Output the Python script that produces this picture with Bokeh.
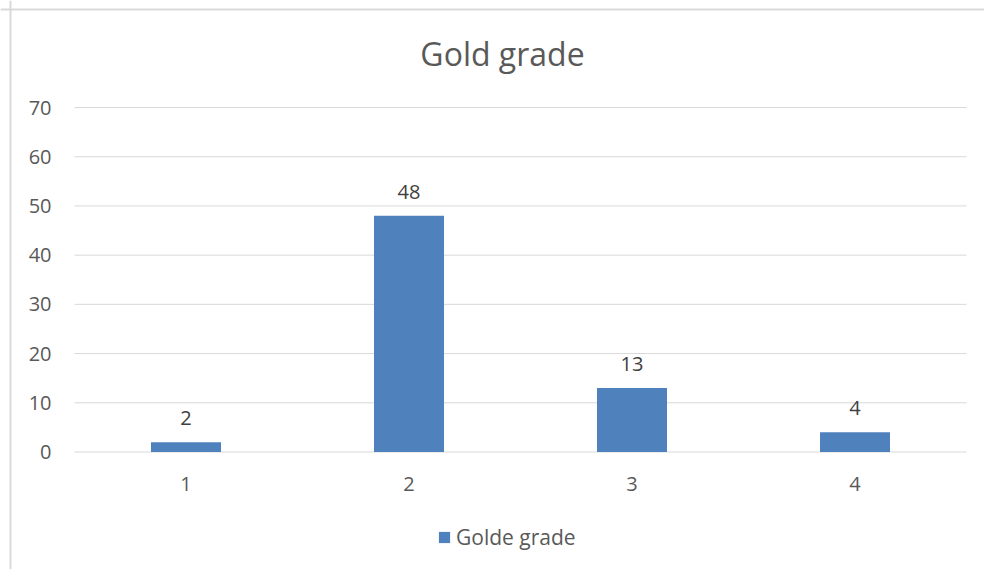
from bokeh.plotting import figure
from bokeh.models import (ColumnDataSource, Range1d, Legend, LegendItem, Span)
from bokeh.core.properties import value
from bokeh.embed import file_html
from bokeh.resources import INLINE

# Chart data
categories = ["1", "2", "3", "4"]
values = [2, 48, 13, 4]
series_name = "Golde grade"
chart_title = "Gold grade"
y_ticks = [0, 10, 20, 30, 40, 50, 60, 70]

FONT = "Open Sans"
TEXT = "#595959"
VALUE_TEXT = "#404040"
BAR = "#4F81BD"
GRID = "#D9D9D9"

# Page and plot-area geometry (pixels)
W, H = 984, 569
AREA_LEFT, AREA_RIGHT = 74, 966
AREA_TOP, AREA_ZERO = 107, 451.5

y_max = y_ticks[-1]
n = len(categories)
px_per_cat = (AREA_RIGHT - AREA_LEFT) / n
units_per_px = y_max / (AREA_ZERO - AREA_TOP)

x_pos = [i + 1 for i in range(n)]
x_lo, x_hi = 0.5, n + 0.5

# the frame covers the whole canvas; the chart area sits inside it
p = figure(width=W, height=H, output_backend="svg", toolbar_location=None,
           x_range=Range1d(x_lo - AREA_LEFT / px_per_cat,
                           x_hi + (W - AREA_RIGHT) / px_per_cat),
           y_range=Range1d(-(H - AREA_ZERO) * units_per_px,
                           y_max + AREA_TOP * units_per_px),
           min_border=0, x_axis_type=None, y_axis_type=None)
p.grid.visible = False
p.outline_line_color = None
p.background_fill_color = "white"
p.border_fill_color = "white"

# horizontal gridlines
p.segment(x0=[x_lo] * len(y_ticks), x1=[x_hi] * len(y_ticks),
          y0=y_ticks, y1=y_ticks, line_color=GRID, line_width=1)

# bars
source = ColumnDataSource(dict(x=x_pos, cat=categories, val=values,
                               lbl=[str(v) for v in values]))
bars = p.vbar(x="x", top="val", bottom=0, width=0.314, source=source,
              fill_color=BAR, line_color=None)

# value labels above bars
p.text(x="x", y="val", text="lbl", source=source, y_offset=-24,
       text_align="center", text_baseline="middle",
       text_font=value(FONT), text_font_size="20px", text_color=VALUE_TEXT)

# y tick labels
p.text(x=[x_lo] * len(y_ticks), y=y_ticks, text=[str(t) for t in y_ticks],
       x_offset=-23, text_align="right", text_baseline="middle",
       text_font=value(FONT), text_font_size="20px", text_color=TEXT)

# category labels under the zero line
p.text(x="x", y=0, text="cat", source=source, y_offset=32,
       text_align="center", text_baseline="middle",
       text_font=value(FONT), text_font_size="20px", text_color=TEXT)

# title
p.text(x=[(x_lo + x_hi) / 2], y=[y_max], text=[chart_title],
       x_offset=-18, y_offset=-54, text_align="center",
       text_baseline="middle", text_font=value(FONT),
       text_font_size="32px", text_color=TEXT)

# legend below the chart area
legend = Legend(items=[LegendItem(label=series_name, renderers=[bars])],
                orientation="horizontal", location=(437, 18),
                label_text_font=FONT, label_text_font_size="21px",
                label_text_color=TEXT, glyph_width=14, glyph_height=14,
                border_line_color=None, background_fill_alpha=0,
                label_standoff=5, padding=0, margin=0)
p.add_layout(legend)

# chart border: left and top edges only
p.add_layout(Span(location=10, location_units="canvas", dimension="height",
                  line_color=GRID, line_width=2))
p.add_layout(Span(location=9, location_units="canvas", dimension="width",
                  line_color=GRID, line_width=2))

open("out.html", "w").write(file_html(p, INLINE))
